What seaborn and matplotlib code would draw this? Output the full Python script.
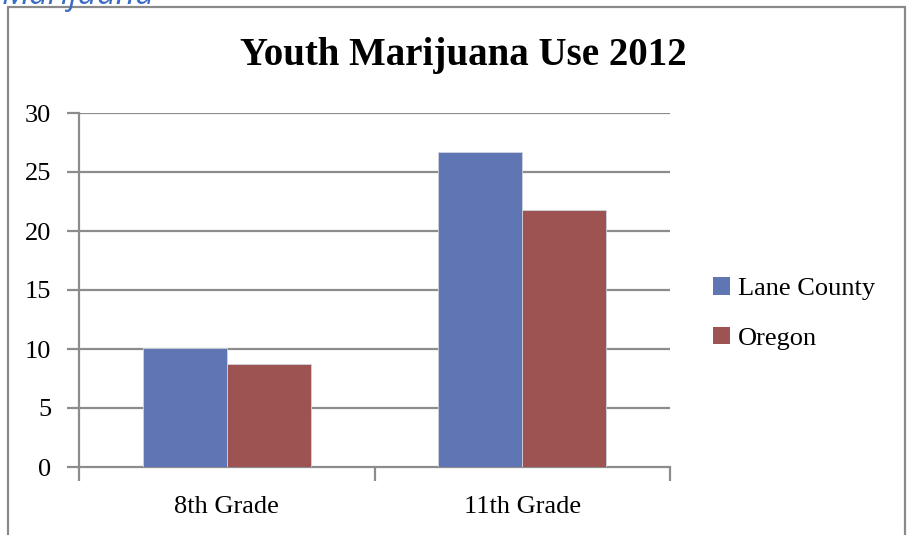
import matplotlib
matplotlib.use("Agg")
import matplotlib.pyplot as plt
from matplotlib.patches import Rectangle
from matplotlib.ticker import FixedLocator, NullFormatter
import seaborn as sns
import pandas as pd

grades = ["8th Grade", "11th Grade"]
regions = ["Lane County", "Oregon"]
lane_county = [10.1, 26.7]
oregon = [8.7, 21.8]
y_ticks = [0, 5, 10, 15, 20, 25, 30]

df = pd.DataFrame({
    "grade": grades * 2,
    "region": [regions[0]] * len(grades) + [regions[1]] * len(grades),
    "value": lane_county + oregon,
})

sns.set_theme(style="white")
plt.rcParams["font.family"] = ["Liberation Serif", "DejaVu Serif"]
plt.rcParams["text.color"] = "black"
plt.rcParams["xtick.labelcolor"] = "black"
plt.rcParams["ytick.labelcolor"] = "black"

fig = plt.figure(figsize=(9.07, 5.35), dpi=100)
ax = fig.add_axes([79 / 907, 1 - 467 / 535, (670 - 79) / 907, (467 - 113) / 535])

palette = {"Lane County": "#6076B4", "Oregon": "#9C5352"}
sns.barplot(data=df, x="grade", y="value", hue="region", order=grades,
            hue_order=regions, palette=palette, width=0.57, saturation=1,
            edgecolor="#D0D4DE", linewidth=0.6, ax=ax, zorder=3)

grid_c = "#8C8C8C"
label_size = 19
ax.set_ylim(0, 30)
ax.set_xlim(-0.5, 1.5)
ax.set_yticks(y_ticks)
ax.set_yticklabels([str(t) for t in y_ticks], fontsize=label_size)
for t in y_ticks[1:]:
    ax.axhline(t, color=grid_c, lw=1.6, zorder=1)

ax.xaxis.set_major_locator(FixedLocator([-0.5, 0.5, 1.5]))
ax.xaxis.set_major_formatter(NullFormatter())
ax.xaxis.set_minor_locator(FixedLocator([0, 1]))
ax.set_xticklabels(grades, minor=True, fontsize=label_size)
ax.tick_params(axis="x", which="major", direction="out", length=10,
               width=1.6, color=grid_c, bottom=True)
ax.tick_params(axis="x", which="minor", length=0, pad=21, bottom=True)
ax.tick_params(axis="y", direction="out", length=9, width=1.6,
               color=grid_c, left=True, pad=11)
ax.set_xlabel("")
ax.set_ylabel("")

for side in ("top", "right"):
    ax.spines[side].set_visible(False)
for side in ("left", "bottom"):
    ax.spines[side].set_color(grid_c)
    ax.spines[side].set_linewidth(1.6)

leg = ax.legend(loc="upper left", bbox_to_anchor=(692 / 907, 1 - 256 / 535),
                bbox_transform=fig.transFigure, frameon=False,
                fontsize=label_size, handlelength=0.65, handleheight=0.65,
                handletextpad=0.3, labelspacing=1.0, borderpad=0.3)
for h in leg.legend_handles:
    h.set_edgecolor("none")

fig.text(463 / 907, 1 - 55 / 535, "Youth Marijuana Use 2012", ha="center",
         va="center", fontsize=28, fontweight="bold")

fig.add_artist(Rectangle((8 / 907, -0.05), (905 - 8) / 907, 1.05 - 7 / 535,
                         transform=fig.transFigure, fill=False,
                         edgecolor="#8A8A8A", lw=1.6))

fig.text(2 / 907, 1 - 4 / 535, "Marijuana", ha="left", va="baseline",
         fontsize=24, style="italic", color="#3B6DC4",
         family=["Open Sans", "DejaVu Sans"])

fig.savefig("out.png", dpi=100)
